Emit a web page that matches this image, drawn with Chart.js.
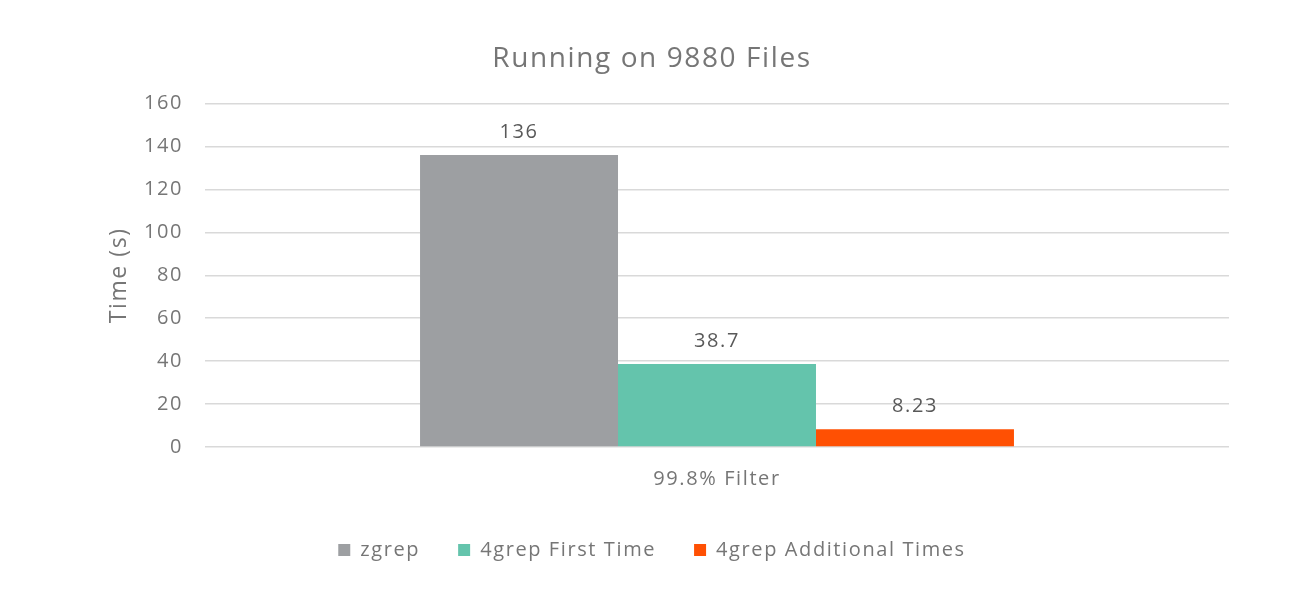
<!DOCTYPE html>
<html>
<head>
<meta charset="utf-8">
<script src="https://cdn.jsdelivr.net/npm/chart.js@4/dist/chart.umd.min.js"></script>
<style>
  html, body { margin: 0; padding: 0; background: #fff; }
  #wrap { width: 1294px; height: 589px; }
</style>
</head>
<body>
<div id="wrap"><canvas id="chart" width="1294" height="589"></canvas></div>
<script>
const categories = ['99.8% Filter'];
const seriesNames = ['zgrep', '4grep First Time', '4grep Additional Times'];
const zgrep = [136];
const firstTime = [38.7];
const additionalTimes = [8.23];
const valueLabels = [['136'], ['38.7'], ['8.23']];
const colors = ['#9D9FA2', '#64C4AC', '#FF5003'];

const textGrey = '#767676';
const fontFam = '"Open Sans", Lato, sans-serif';
const spacing = '1.6px';

// la fuente original es más ancha: un poco de espaciado entre letras
const wideText = {
  id: 'wideText',
  beforeLayout(chart) { chart.ctx.letterSpacing = spacing; },
  beforeDraw(chart) { chart.ctx.letterSpacing = spacing; }
};

// etiquetas de valor sobre cada barra
const barLabels = {
  id: 'barLabels',
  afterDatasetsDraw(chart) {
    const ctx = chart.ctx;
    ctx.save();
    ctx.font = '20px ' + fontFam;
    ctx.fillStyle = '#595959';
    ctx.textAlign = 'center';
    ctx.textBaseline = 'bottom';
    chart.data.datasets.forEach((ds, i) => {
      chart.getDatasetMeta(i).data.forEach((bar, j) => {
        ctx.fillText(valueLabels[i][j], bar.x, bar.y - 13);
      });
    });
    ctx.restore();
  }
};

new Chart(document.getElementById('chart').getContext('2d'), {
  type: 'bar',
  data: {
    labels: categories,
    datasets: [
      { label: seriesNames[0], data: zgrep,           backgroundColor: colors[0] },
      { label: seriesNames[1], data: firstTime,       backgroundColor: colors[1] },
      { label: seriesNames[2], data: additionalTimes, backgroundColor: colors[2] }
    ]
  },
  options: {
    responsive: false,
    animation: false,
    layout: { padding: { left: 75, right: 65, top: 42, bottom: 19 } },
    datasets: { bar: { categoryPercentage: 0.58, barPercentage: 1.0 } },
    plugins: {
      title: {
        display: true,
        text: 'Running on 9880 Files',
        color: textGrey,
        font: { family: fontFam, size: 28, weight: 'normal' },
        padding: { top: 0, bottom: 28 }
      },
      legend: {
        position: 'bottom',
        labels: {
          color: textGrey,
          font: { family: fontFam, size: 20 },
          boxWidth: 12,
          boxHeight: 12,
          padding: 38
        }
      },
      tooltip: { enabled: false }
    },
    scales: {
      x: {
        grid: { display: false },
        border: { display: false },
        ticks: { color: textGrey, font: { family: fontFam, size: 20 }, padding: 12 },
        afterFit(scale) { scale.height -= 1; }
      },
      y: {
        min: 0,
        max: 160,
        ticks: { stepSize: 20, color: textGrey, font: { family: fontFam, size: 20 }, padding: 22 },
        grid: { color: '#D9D9D9', lineWidth: 1.5, drawTicks: false },
        border: { display: false },
        title: {
          display: true,
          text: 'Time (s)',
          color: textGrey,
          font: { family: fontFam, size: 23 },
          padding: { top: 31, bottom: 0 }
        },
        afterFit(scale) { scale.width = 130; }
      }
    }
  },
  plugins: [wideText, barLabels]
});
</script>
</body>
</html>
